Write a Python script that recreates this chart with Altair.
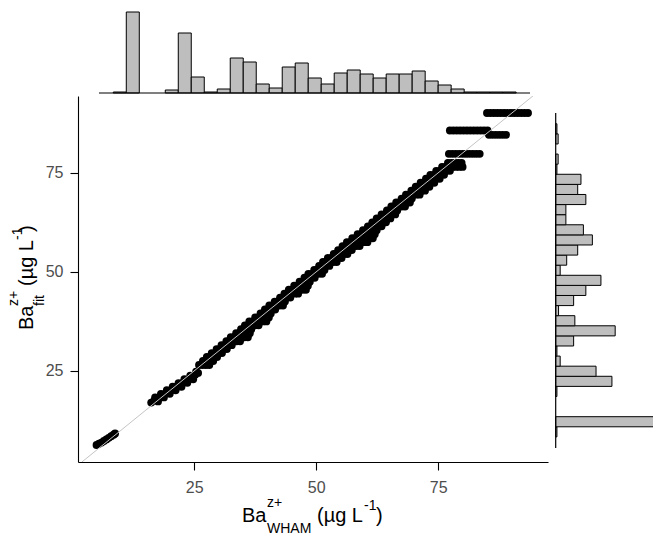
import altair as alt
import pandas as pd

# ---------------- data ----------------
x_ticks = [25, 50, 75]
y_ticks = [25, 50, 75]
x_domain = [1.2, 97.5]
y_domain = [2.0, 94.4]

# low clusters (diagonal groups)
cluster_wham = [5.0, 5.5, 6.0, 6.5, 7.0, 7.5, 8.0, 8.5, 8.8,
                16.2, 16.8, 17.4, 18.0, 18.6, 19.2, 19.8, 20.4, 21.0, 21.6, 22.2, 22.8, 23.4, 24.0, 24.6, 25.2, 25.8,
                17.0, 18.2, 19.4, 20.6, 21.8, 23.0, 24.2, 25.4,
                17.6, 18.8, 20.0, 21.2, 22.4, 23.6, 24.8]
cluster_fit = [6.3, 6.6, 6.9, 7.3, 7.7, 8.1, 8.5, 8.9, 9.2,
               17.0, 17.5, 17.9, 18.4, 18.9, 19.3, 19.8, 20.2, 20.7, 21.2, 21.6, 22.1, 22.6, 23.0, 23.5, 24.0, 24.5,
               18.3, 19.2, 20.1, 21.0, 21.9, 22.9, 23.8, 24.8,
               17.3, 18.3, 19.2, 20.1, 21.0, 22.0, 22.9]

# horizontal streaks: one Ba_fit level, several Ba_WHAM values
fit_levels = [26.5, 27.5, 28.5, 29.5, 30.5, 31.5, 32.5, 33.5, 34.5, 35.5,
              36.5, 37.5, 38.5, 39.5, 40.5, 41.5, 42.5, 43.5, 44.5, 45.5,
              46.5, 47.5, 48.5, 49.5, 50.5, 51.5, 52.5, 53.5, 54.5, 55.5,
              56.5, 57.5, 58.5, 59.5, 60.5, 61.5, 62.5, 63.5, 64.5, 65.5,
              66.5, 67.5, 68.5, 69.5, 70.5, 71.5, 72.5, 73.5, 74.5, 75.5,
              76.5, 77.5, 79.8, 85.7, 84.6, 90.1]
wham_streaks = [
    [26.0, 26.7, 27.4, 28.1],
    [26.8, 27.5, 28.2, 28.9],
    [27.6, 28.3, 29.0, 29.7],
    [28.6, 29.3, 30.0, 30.7],
    [29.6, 30.3, 31.0, 31.7],
    [30.6, 31.3, 32.0, 32.7],
    [31.6, 32.3, 33.0, 33.7, 34.4],
    [32.5, 33.2, 33.9, 34.6, 35.3, 36.0],
    [33.6, 34.3, 35.0, 35.7, 36.4],
    [34.6, 35.3, 36.0, 36.7],
    [35.4, 36.1, 36.8, 37.5, 38.2],
    [36.3, 37.0, 37.7, 38.4, 39.1, 39.8],
    [37.5, 38.2, 38.9, 39.6, 40.3],
    [38.6, 39.3, 40.0, 40.7],
    [39.5, 40.2, 40.9, 41.6],
    [40.4, 41.1, 41.8, 42.5, 43.2],
    [41.5, 42.2, 42.9, 43.6],
    [42.6, 43.3, 44.0, 44.7],
    [43.5, 44.2, 44.9, 45.6, 46.3],
    [44.4, 45.1, 45.8, 46.5, 47.2, 47.9],
    [45.5, 46.2, 46.9, 47.6, 48.3],
    [46.6, 47.3, 48.0, 48.7],
    [47.6, 48.3, 49.0, 49.7],
    [48.4, 49.1, 49.8, 50.5, 51.2],
    [49.6, 50.3, 51.0, 51.7],
    [50.6, 51.3, 52.0, 52.7],
    [51.4, 52.1, 52.8, 53.5, 54.2],
    [52.4, 53.1, 53.8, 54.5, 55.2],
    [53.6, 54.3, 55.0, 55.7, 56.4],
    [54.5, 55.2, 55.9, 56.6, 57.3],
    [55.4, 56.1, 56.8, 57.5, 58.2, 58.9],
    [56.3, 57.0, 57.7, 58.4, 59.1, 59.8, 60.5],
    [57.4, 58.1, 58.8, 59.5, 60.2, 60.9, 61.6],
    [58.5, 59.2, 59.9, 60.6, 61.3, 62.0],
    [59.6, 60.3, 61.0, 61.7, 62.4],
    [60.6, 61.3, 62.0, 62.7, 63.4],
    [61.5, 62.2, 62.9, 63.6, 64.3],
    [62.4, 63.1, 63.8, 64.5, 65.2],
    [63.4, 64.1, 64.8, 65.5, 66.2],
    [64.5, 65.2, 65.9, 66.6],
    [65.4, 66.1, 66.8, 67.5, 68.2],
    [66.4, 67.1, 67.8, 68.5, 69.2],
    [67.5, 68.2, 68.9, 69.6],
    [68.4, 69.1, 69.8, 70.5, 71.2],
    [69.5, 70.2, 70.9, 71.6, 72.3],
    [70.4, 71.1, 71.8, 72.5, 73.2],
    [71.4, 72.1, 72.8, 73.5, 74.2],
    [72.5, 73.2, 73.9, 74.6, 75.3],
    [73.4, 74.1, 74.8, 75.5, 76.2],
    [74.6, 75.3, 76.0, 76.7, 77.4],
    [75.8, 76.5, 77.2, 77.9, 78.6, 79.3, 80.0],
    [77.0, 77.7, 78.4, 79.1, 79.8],
    [77.2, 77.9, 78.6, 79.3, 80.0, 80.7, 81.4, 82.1, 82.8, 83.5],
    [77.4, 78.1, 78.8, 79.5, 80.2, 80.9, 81.6, 82.3, 83.0, 83.7, 84.4, 85.1],
    [85.4, 86.1, 86.8, 87.5, 88.2, 88.9],
    [85.0, 85.7, 86.4, 87.1, 87.8, 88.5, 89.2, 89.9, 90.6, 91.3, 92.0, 92.7, 93.4],
]

identity_ends = [2.0, 95.0]

# marginal histograms (31 bins of width 3 starting at 3.5)
bin_starts = [3.5 + 3.0 * k for k in range(31)]
top_counts = [3, 243, 0, 0, 9, 180, 48, 3, 12, 105, 93, 27, 15, 78, 90, 45, 27,
              60, 69, 57, 45, 57, 57, 66, 36, 24, 12, 3, 3, 3, 3]
right_counts = [3, 243, 0, 0, 3, 138, 99, 11, 3, 44, 146, 47, 7, 44, 74, 111, 11,
                27, 54, 90, 68, 25, 25, 74, 54, 62, 3, 6, 0, 6, 3]
marg_lims = [0.2, 99.7]
count_max = 243

# ---------------- tables ----------------
pts = pd.DataFrame({"wham": cluster_wham, "fit": cluster_fit})
rows = [{"wham": w, "fit": f} for f, ws in zip(fit_levels, wham_streaks) for w in ws]
pts = pd.concat([pts, pd.DataFrame(rows)], ignore_index=True)
line_df = pd.DataFrame({"v": identity_ends})

top_df = pd.DataFrame({"b0": bin_starts, "b1": [b + 3.0 for b in bin_starts], "n": top_counts})
top_df = top_df[top_df.n > 0]
right_df = pd.DataFrame({"b0": bin_starts, "b1": [b + 3.0 for b in bin_starts], "n": right_counts})
right_df = right_df[right_df.n > 0]
lim_df = pd.DataFrame({"lo": [marg_lims[0]], "hi": [marg_lims[1]], "zero": [0]})

# ---------------- layout constants ----------------
L, T = 78, 96          # plot origin in page pixels
W, H = 470, 366

FONT = "Liberation Sans"

xs = alt.Scale(domain=x_domain, nice=False, zero=False)
ys = alt.Scale(domain=y_domain, nice=False, zero=False)
ax_common = dict(title=None, grid=False, domainColor="#000000", domainWidth=1.1,
                 tickColor="#000000", tickWidth=1.1, tickSize=8,
                 labelFont=FONT, labelFontSize=16, labelColor="#4D4D4D")
x_axis = alt.Axis(values=x_ticks, labelPadding=9, **ax_common)
y_axis = alt.Axis(values=y_ticks, labelPadding=7, **ax_common)

points = alt.Chart(pts).mark_circle(size=62, color="black", opacity=1).encode(
    x=alt.X("wham:Q", scale=xs, axis=x_axis),
    y=alt.Y("fit:Q", scale=ys, axis=y_axis),
)
ident = alt.Chart(line_df).mark_line(color="#C4C4C4", strokeWidth=1, clip=True).encode(
    x=alt.X("v:Q", scale=xs, axis=x_axis),
    y=alt.Y("v:Q", scale=ys, axis=y_axis),
)
main = alt.layer(points, ident)

# top marginal histogram
tx = alt.Scale(domain=marg_lims, range=[99 - L, 530 - L], nice=False, zero=False)
ty = alt.Scale(domain=[0, count_max], range=[93 - T, 12 - T], nice=False)
top_bars = alt.Chart(top_df).mark_rect(fill="#BEBEBE", stroke="#000000", strokeWidth=1).encode(
    x=alt.X("b0:Q", scale=tx, axis=None), x2="b1:Q",
    y=alt.Y("n:Q", scale=ty, axis=None), y2=alt.datum(0),
)
top_rule = alt.Chart(lim_df).mark_rule(color="#000000", strokeWidth=1.2).encode(
    x=alt.X("lo:Q", scale=tx, axis=None), x2="hi:Q",
    y=alt.Y("zero:Q", scale=ty, axis=None),
)
top = alt.layer(top_bars, top_rule)

# right marginal histogram
rx = alt.Scale(domain=[0, count_max], range=[555.7 - L, 654.7 - L], nice=False)
ry = alt.Scale(domain=marg_lims, range=[448 - T, 113 - T], nice=False, zero=False)
right_bars = alt.Chart(right_df).mark_rect(fill="#BEBEBE", stroke="#000000", strokeWidth=1).encode(
    y=alt.Y("b0:Q", scale=ry, axis=None), y2="b1:Q",
    x=alt.X("n:Q", scale=rx, axis=None), x2=alt.datum(0),
)
right_rule = alt.Chart(lim_df).mark_rule(color="#000000", strokeWidth=1.2).encode(
    y=alt.Y("lo:Q", scale=ry, axis=None), y2="hi:Q",
    x=alt.X("zero:Q", scale=rx, axis=None),
)
right = alt.layer(right_bars, right_rule)

# axis titles with super/subscripts
def txt(s, x, y, size, angle=0):
    return alt.Chart(pd.DataFrame({"t": [s]})).mark_text(
        font=FONT, fontSize=size, color="#000000", align="left",
        baseline="alphabetic", angle=angle
    ).encode(text="t:N", x=alt.value(x - L), y=alt.value(y - T))

titles = [
    txt("Ba", 242, 522, 20), txt("z+", 267, 507, 14), txt("WHAM", 267, 533, 14),
    txt("(\u00b5g L", 317, 522, 20), txt("-1", 364, 510, 14), txt(")", 376, 522, 20),
    txt("Ba", 33, 330, 20, 270), txt("z+", 18, 306, 14, 270), txt("fit", 44, 306, 14, 270),
    txt("(\u00b5g L", 33, 286, 20, 270), txt("-1", 22, 240, 14, 270), txt(")", 33, 232, 20, 270),
]

chart = alt.layer(main, top, right, *titles).resolve_scale(
    x="independent", y="independent"
).properties(
    width=W, height=H,
    padding={"left": L, "top": T, "right": 653 - L - W, "bottom": 541 - T - H},
    autosize=alt.AutoSizeParams(type="none"),
).configure_view(stroke=None)

chart.save("out.html", embed_options={"renderer": "svg", "actions": False})
